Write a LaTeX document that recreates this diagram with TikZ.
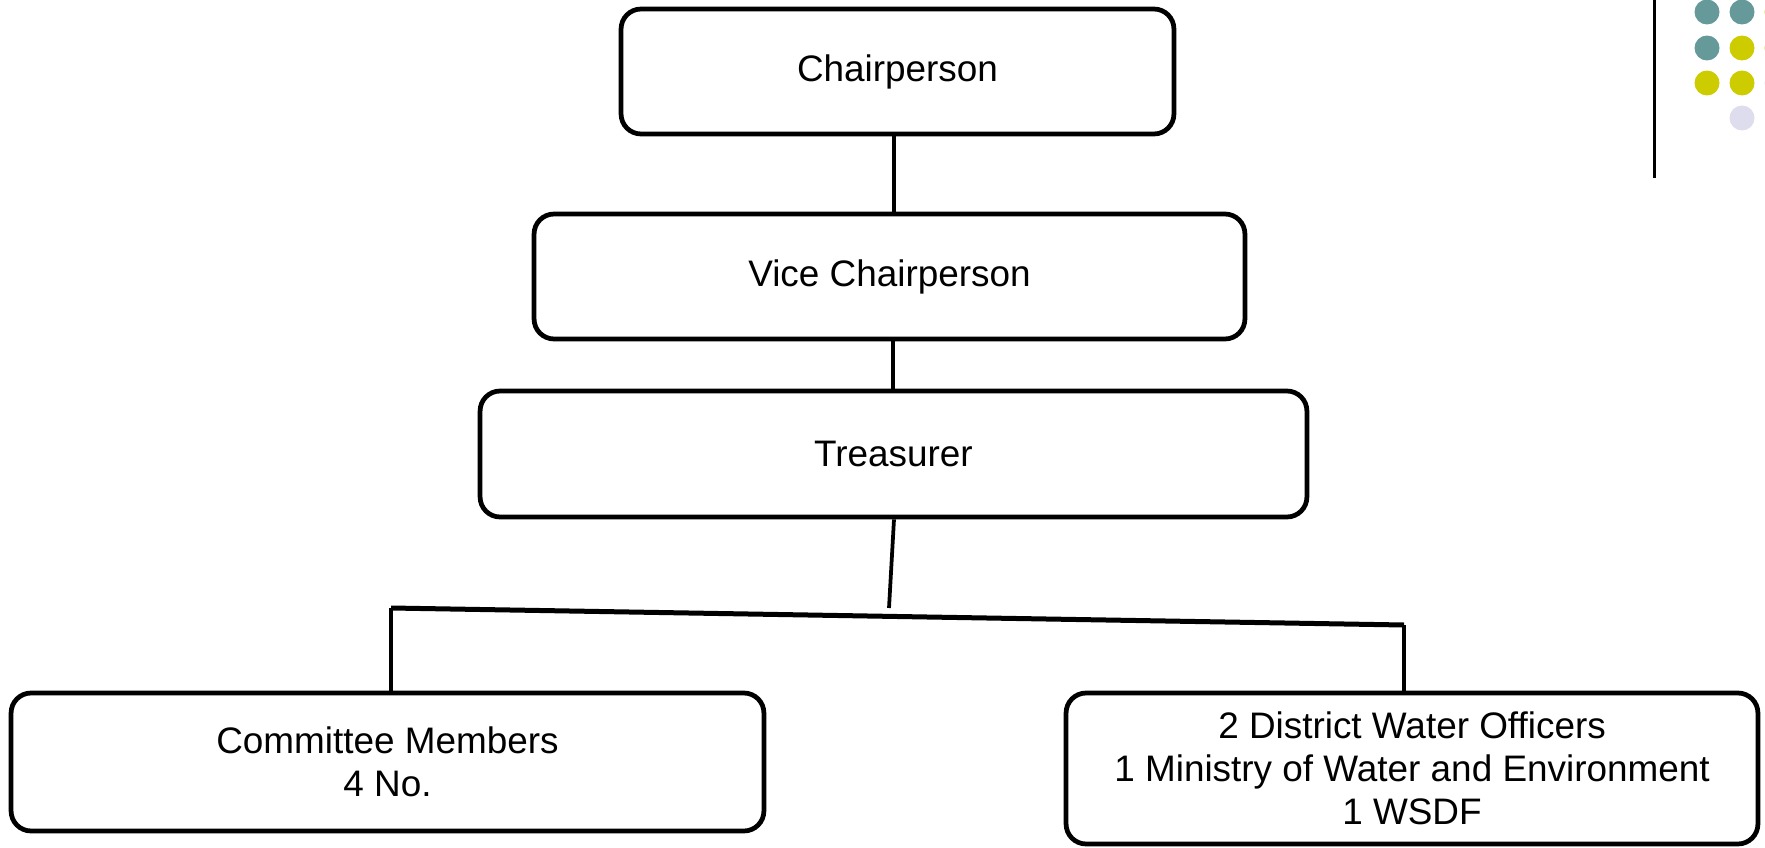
\documentclass[tikz,border=0pt]{standalone}
\usepackage{fontspec}
\setmainfont{Liberation Sans}
\definecolor{dotteal}{HTML}{669999}
\definecolor{dotlime}{HTML}{CCCC00}
\definecolor{dotlilac}{HTML}{DDDDEE}
\begin{document}
\begin{tikzpicture}[x=0.02cm,y=-0.02cm,
    post/.style={draw,line width=0.095cm,rounded corners=0.4cm,align=center,
      inner sep=0pt,font=\fontsize{21}{24.5}\selectfont},
    link/.style={line width=0.075cm}]
                \useasboundingbox (0,0) rectangle (1765,848);
                \clip (0,0) rectangle (1765,848);

                % Marking the posts
                \node [post,minimum width=11.06cm,minimum height=2.5cm] (chair) at (897.5,71.5) {Chairperson};
                \node [post,minimum width=14.22cm,minimum height=2.5cm] (vice) at (889.5,276.5) {Vice Chairperson};
                \node [post,minimum width=16.54cm,minimum height=2.52cm] (treas) at (893.5,454) {Treasurer};
                \node [post,minimum width=15.06cm,minimum height=2.76cm] (members) at (387.5,762) {Committee Members\\4 No.};
                \node [post,minimum width=13.84cm,minimum height=3.02cm] (officers) at (1412,768.5) {2 District Water Officers\\1 Ministry of Water and Environment\\1 WSDF};

                % Branch points
                \coordinate (tjoin) at (889,608);
                \coordinate (lbranch) at (391,608);
                \coordinate (rbranch) at (1404,625);

                % Drawing segment chair vice
                \draw [link] (vice.north -| 894,0) -- (chair.south -| 894,0);%

                % Drawing segment vice treas
                \draw [link] (treas.north -| 893,0) -- (vice.south -| 893,0);%

                % Drawing segment treas tjoin
                \draw [link] (treas.south -| 894,0) -- (tjoin);%

                % Drawing segment lbranch rbranch
                \draw [line width=0.1cm] (lbranch) -- (rbranch);%

                % Drawing segment lbranch members
                \draw [link] (lbranch) -- (lbranch |- members.north);%

                % Drawing segment rbranch officers
                \draw [link] (rbranch) -- (rbranch |- officers.north);%

                % Corner rule and dots
                \draw [line width=0.06cm] (1654,0) -- (1654,178);%
                \foreach \px/\py/\col in {1707/12/dotteal, 1742/12/dotteal, 1777/12/dotlime,
                    1707/48/dotteal, 1742/48/dotlime, 1777/48/dotlime,
                    1707/83/dotlime, 1742/83/dotlime, 1777/83/dotlilac,
                    1742/118/dotlilac}
                  \fill [\col] (\px,\py) circle (0.25cm);
            \end{tikzpicture}
\end{document}
